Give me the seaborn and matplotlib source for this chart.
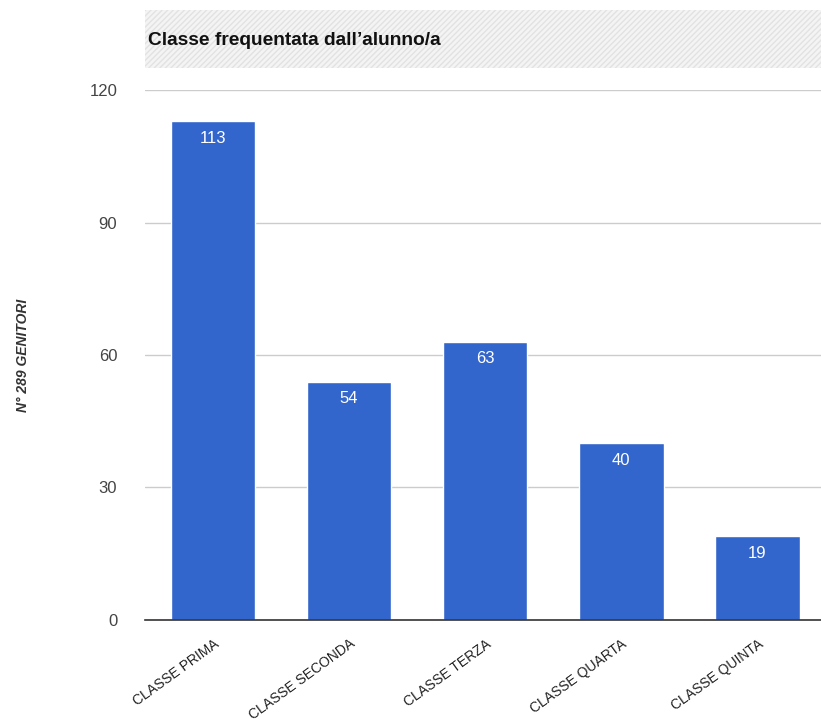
import matplotlib
matplotlib.use("Agg")
import matplotlib.pyplot as plt
import seaborn as sns
import pandas as pd
from matplotlib.patches import Rectangle

# Data
categories = ["CLASSE PRIMA", "CLASSE SECONDA", "CLASSE TERZA", "CLASSE QUARTA", "CLASSE QUINTA"]
counts = [113, 54, 63, 40, 19]
yticks = [0, 30, 60, 90, 120]

df = pd.DataFrame({"classe": categories, "n": counts})

sns.set_style("white")
plt.rcParams["font.family"] = ["Liberation Sans", "DejaVu Sans"]

fig = plt.figure(figsize=(8.21, 7.22), dpi=100)
ax = fig.add_axes([0.1766, 0.1413, 0.8234, 0.734])

sns.barplot(data=df, x="classe", y="n", color="#3366cc", saturation=1,
            width=0.62, ax=ax)

ax.set_xlim(-0.5, 4.467)
ax.set_ylim(0, 120)
ax.set_yticks(yticks)
ax.set_yticklabels([str(t) for t in yticks], fontsize=12, color="#444444")
ax.tick_params(axis="y", length=0, pad=20)
ax.tick_params(axis="x", length=0, pad=12)
ax.grid(axis="y", color="#cccccc", linewidth=1)
ax.set_axisbelow(True)
for s in ["top", "right", "left"]:
    ax.spines[s].set_visible(False)
ax.spines["bottom"].set_color("#333333")
ax.spines["bottom"].set_linewidth(1.2)

ax.set_xticks(range(len(categories)))
ax.set_xticklabels(categories, rotation=36, ha="right", rotation_mode="anchor",
                   fontsize=10, color="#222222")
ax.set_xlabel("")
ax.set_ylabel("N° 289 GENITORI", fontsize=10, fontweight="bold", fontstyle="italic",
              color="#333333", labelpad=43)

# value labels inside bars
for i, v in enumerate(counts):
    ax.text(i, v - 2.2, str(v), ha="center", va="top", color="white", fontsize=12)

# title band
tax = fig.add_axes([0.1766, 1 - 68 / 722, 0.8234, 58 / 722])
tax.set_axis_off()
tax.add_patch(Rectangle((0, 0), 1, 1, transform=tax.transAxes, facecolor="#f4f4f4",
                        edgecolor="#e2e2e2", hatch="//////", linewidth=0))
tax.text(0.004, 0.47, "Classe frequentata dall\u2019alunno/a", transform=tax.transAxes,
         ha="left", va="center", fontsize=13.8, fontweight="bold", color="#111111")

fig.savefig("out.png", dpi=100)
